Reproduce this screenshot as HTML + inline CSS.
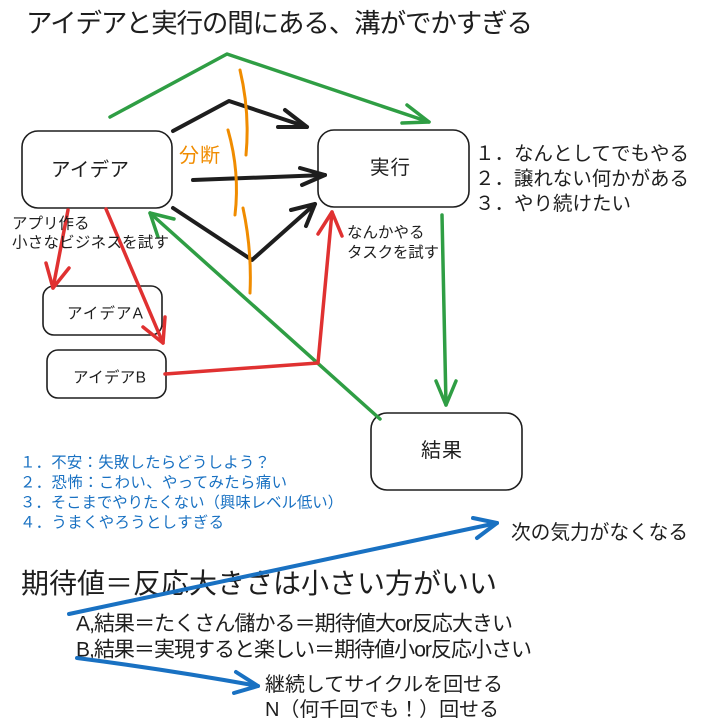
<!DOCTYPE html>
<html>
<head>
<meta charset="utf-8">
<style>
  html,body{margin:0;padding:0;background:#fff;}
  svg{display:block;}
  text{font-family:"Liberation Sans","Noto Sans CJK JP",sans-serif;fill:#1e1e1e;}
  .blue{fill:#1971c2;}
</style>
</head>
<body>
<svg width="701" height="728" viewBox="0 0 701 728" xmlns="http://www.w3.org/2000/svg">
  <rect x="0" y="0" width="701" height="728" fill="#fff"/>

  <!-- Title -->
  <text x="26" y="32.5" font-size="26.5" textLength="507">アイデアと実行の間にある、溝がでかすぎる</text>

  <!-- Boxes -->
  <g fill="none" stroke="#1e1e1e" stroke-width="1.6">
    <rect x="22" y="131" width="150" height="77" rx="16"/>
    <rect x="318" y="130" width="151" height="77" rx="16"/>
    <rect x="43" y="286" width="119" height="49" rx="11"/>
    <rect x="47" y="350" width="119" height="48" rx="11"/>
    <rect x="371" y="413" width="151" height="77" rx="16"/>
  </g>

  <!-- Box labels -->
  <text x="51" y="176" font-size="19.5" textLength="78">アイデア</text>
  <text x="370" y="174" font-size="19.5" textLength="40">実行</text>
  <text x="67" y="318.5" font-size="15.5" textLength="76">アイデアA</text>
  <text x="73" y="382.5" font-size="15.5" textLength="73">アイデアB</text>
  <text x="421" y="457" font-size="20" textLength="41">結果</text>

  <!-- Green connectors -->
  <g fill="none" stroke="#2f9e44" stroke-width="3.5" stroke-linecap="round" stroke-linejoin="round">
    <path d="M110,117 L227,54 L429,122"/>
    <path d="M407,105 L429,122 L402,123"/>
    <path d="M442,215 L446,405"/>
    <path d="M436,381 L446,405 L456,381"/>
    <path d="M380,419 L150,213"/>
    <path d="M174,219 L150,213 L158,237"/>
  </g>

  <!-- Black connectors -->
  <g fill="none" stroke="#1e1e1e" stroke-width="4" stroke-linecap="round" stroke-linejoin="round">
    <path d="M173,131 L229,101 L307,127"/>
    <path d="M285,110 L307,127 L278,127"/>
    <path d="M193,180 L325,175"/>
    <path d="M300,168 L325,175 L302,185"/>
    <path d="M173,208 L252,260 L315,204"/>
    <path d="M291,210 L315,204 L306,226"/>
  </g>

  <!-- Orange cuts -->
  <g fill="none" stroke="#f08c00" stroke-width="3" stroke-linecap="round">
    <path d="M240,70 Q250,112 246,155"/>
    <path d="M228,130 Q240,172 235,215"/>
    <path d="M243,208 Q252,250 250,293"/>
  </g>
  <text x="179" y="162" font-size="20" style="fill:#f08c00" textLength="41">分断</text>

  <!-- Red connectors -->
  <g fill="none" stroke="#e03131" stroke-width="3.5" stroke-linecap="round" stroke-linejoin="round">
    <path d="M68,210 L53,288"/>
    <path d="M46,263 L53,288 L69,268"/>
    <path d="M106,209 L163,343"/>
    <path d="M143,327 L163,343 L165,317"/>
    <path d="M165,374 L318,363 L332,212"/>
    <path d="M318,234 L332,212 L342,236"/>
  </g>

  <!-- Small labels -->
  <text x="12" y="228.5" font-size="15.5">アプリ作る</text>
  <text x="12" y="247.5" font-size="15.5" textLength="157">小さなビジネスを試す</text>
  <text x="347" y="237.5" font-size="15.5">なんかやる</text>
  <text x="347" y="257.5" font-size="15.5" textLength="92">タスクを試す</text>

  <!-- Right list -->
  <text x="475" y="160" font-size="19.5" textLength="214">１．なんとしてでもやる</text>
  <text x="475" y="185" font-size="19.5" textLength="214">２．譲れない何かがある</text>
  <text x="475" y="210" font-size="19.5" textLength="156">３．やり続けたい</text>

  <!-- Blue list -->
  <text class="blue" x="20" y="467.5" font-size="15.4" textLength="250">１．不安：失敗したらどうしよう？</text>
  <text class="blue" x="20" y="487.5" font-size="15.4" textLength="267">２．恐怖：こわい、やってみたら痛い</text>
  <text class="blue" x="20" y="507.5" font-size="15.4" textLength="323">３．そこまでやりたくない（興味レベル低い）</text>
  <text class="blue" x="20" y="527.5" font-size="15.4" textLength="204">４．うまくやろうとしすぎる</text>

  <!-- Bottom section -->
  <text x="511" y="539" font-size="19.7" textLength="177">次の気力がなくなる</text>
  <text x="21" y="593" font-size="28" textLength="476">期待値＝反応大きさは小さい方がいい</text>
  <text x="76" y="630.5" font-size="21" textLength="437">A,結果＝たくさん儲かる＝期待値大or反応大きい</text>
  <text x="76" y="656.5" font-size="21" textLength="456">B,結果＝実現すると楽しい＝期待値小or反応小さい</text>
  <text x="265" y="691" font-size="20" textLength="238">継続してサイクルを回せる</text>
  <text x="265" y="716" font-size="20" textLength="234">N（何千回でも！）回せる</text>

  <!-- Blue arrows -->
  <g fill="none" stroke="#1971c2" stroke-width="4" stroke-linecap="round" stroke-linejoin="round">
    <path d="M69,614 L497,523"/>
    <path d="M473,518 L497,523 L477,538"/>
    <path d="M77,658 Q170,670 258,686"/>
    <path d="M236,672 L258,686 L234,693"/>
  </g>
</svg>
</body>
</html>
